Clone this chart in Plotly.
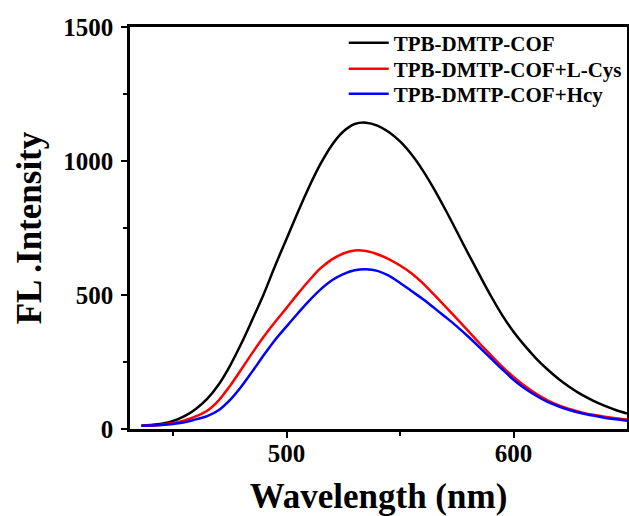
import plotly.graph_objects as go

wavelength = [436, 440, 445, 450, 455, 460, 465, 470, 475, 480, 485, 490, 495, 500,
              505, 510, 515, 520, 525, 530, 535, 540, 545, 550, 555, 560, 565, 570,
              575, 580, 585, 590, 595, 600, 605, 610, 615, 620, 625, 630, 635, 640,
              645, 650]

cof = [12, 15, 20, 30, 48, 75, 112, 165, 235, 318, 410, 505, 610, 710,
       810, 905, 990, 1060, 1110, 1138, 1143, 1132, 1108, 1073, 1025, 965, 895, 818,
       737, 655, 575, 497, 425, 363, 310, 263, 222, 186, 155, 128, 106, 87,
       71, 58]

cof_lcys = [12, 13, 16, 22, 32, 47, 68, 106, 160, 222, 285, 345, 400, 452,
            505, 555, 600, 633, 655, 666, 664, 652, 634, 610, 581, 544, 501, 457,
            412, 366, 320, 276, 233, 194, 160, 131, 107, 88, 74, 62, 53, 46,
            40, 35]

cof_hcy = [12, 13, 15, 19, 25, 36, 48, 70, 108, 158, 216, 276, 333, 383,
           432, 479, 521, 555, 578, 592, 596, 590, 572, 545, 515, 485, 452, 418,
           383, 345, 305, 264, 223, 184, 151, 124, 101, 84, 70, 59, 50, 42,
           36, 31]

series_names = ["TPB-DMTP-COF", "TPB-DMTP-COF+L-Cys", "TPB-DMTP-COF+Hcy"]
series_values = [cof, cof_lcys, cof_hcy]
series_colors = ["#000000", "#ff0000", "#0000ff"]
legend_ids = ["legend", "legend2", "legend3"]

FONT = "Liberation Serif"

fig = go.Figure()
for name, vals, col, lg in zip(series_names, series_values, series_colors, legend_ids):
    fig.add_trace(go.Scatter(x=wavelength, y=vals, mode="lines", name=name, legend=lg,
                             line=dict(color=col, width=2.5, shape="spline", smoothing=1.0)))

axis_common = dict(
    showline=True, linecolor="black", linewidth=2.5, mirror=True,
    ticks="outside", ticklen=6, tickwidth=2, tickcolor="black",
    showgrid=False, zeroline=False, automargin=False,
    tickfont=dict(family=FONT, size=25, color="black", weight="bold"),
)

fig.update_xaxes(range=[431, 650], tickvals=[500, 600], ticklabelstandoff=-6,
                 minor=dict(tickvals=[450, 550], ticklen=4, tickwidth=2, ticks="outside", tickcolor="black"),
                 title=dict(text="Wavelength (nm)", font=dict(family=FONT, size=35, color="black", weight="bold"), standoff=18),
                 **axis_common)
fig.update_yaxes(range=[0, 1500], tickvals=[0, 500, 1000, 1500], ticklabelstandoff=3,
                 minor=dict(tickvals=[250, 750, 1250], ticklen=4, tickwidth=2, ticks="outside", tickcolor="black"),
                 title=dict(text="FL .Intensity", font=dict(family=FONT, size=35, color="black", weight="bold"), standoff=12),
                 **axis_common)

legend_style = dict(x=0.43, xanchor="left", yanchor="middle",
                    bgcolor="rgba(0,0,0,0)", borderwidth=0,
                    font=dict(family=FONT, size=21, color="black", weight="bold"),
                    itemwidth=40)

fig.update_layout(
    width=629, height=516,
    margin=dict(l=130, r=2, t=27, b=87),
    plot_bgcolor="white", paper_bgcolor="white",
    showlegend=True,
    legend=dict(y=0.960, **legend_style),
    legend2=dict(y=0.8955, **legend_style),
    legend3=dict(y=0.833, **legend_style),
)

fig.write_html("out.html")
